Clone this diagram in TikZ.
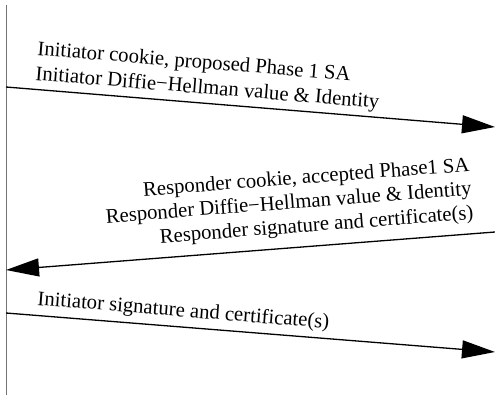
\documentclass[tikz,border=0pt]{standalone}
\usepackage{fontspec}
\setmainfont{Liberation Serif}
\usetikzlibrary{arrows.meta}
\begin{document}
\begin{tikzpicture}[x=1pt,y=1pt,
  msg/.style={line width=1.3pt,-{Triangle[length=33pt,width=18pt]}},
  lifeline/.style={line width=0.9pt,draw=black!55},
  lbl/.style={inner sep=0pt,font=\fontsize{20.7}{24}\selectfont}]
\useasboundingbox (0,0) rectangle (495,-396);
% lifeline
\coordinate (lt) at (6,-5);
\coordinate (lb) at (6,-395);
\draw[lifeline] (lt) -- (lb);
% message 1
\coordinate (a1) at (6,-87);
\coordinate (b1) at (495,-127);
\draw[msg] (a1) -- (b1);
\node[lbl,anchor=base west,rotate=-4.7] (t11) at (37,-55) {Initiator cookie, proposed Phase 1 SA};
\node[lbl,anchor=base west,rotate=-4.7] (t12) at (35,-80) {Initiator Diffie−Hellman value \& Identity};
% message 2
\coordinate (a2) at (495,-232);
\coordinate (b2) at (6,-270);
\draw[msg] (a2) -- (b2);
\node[lbl,anchor=base east,rotate=4.4] (t21) at (470,-171) {Responder cookie, accepted Phase1 SA};
\node[lbl,anchor=base east,rotate=4.4] (t22) at (472,-195) {Responder Diffie−Hellman value \& Identity};
\node[lbl,anchor=base east,rotate=4.4] (t23) at (474,-219) {Responder signature and certificate(s)};
% message 3
\coordinate (a3) at (6,-313);
\coordinate (b3) at (495,-352);
\draw[msg] (a3) -- (b3);
\node[lbl,anchor=base west,rotate=-4.6] (t31) at (37,-305) {Initiator signature and certificate(s)};
\end{tikzpicture}
\end{document}
